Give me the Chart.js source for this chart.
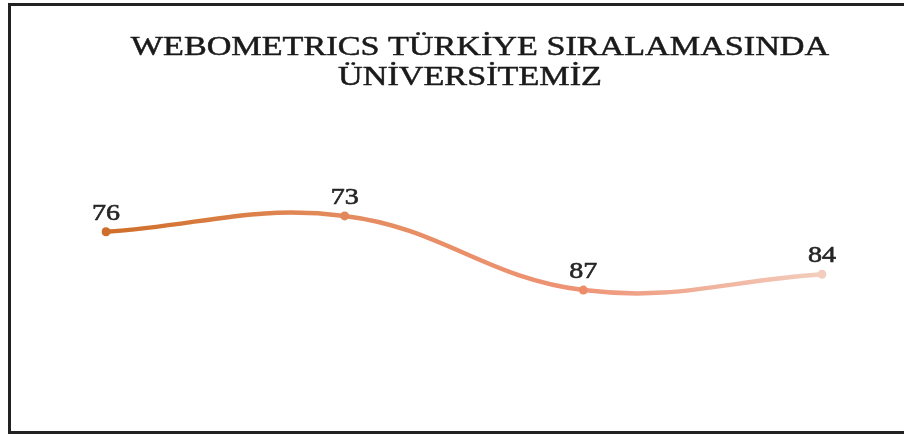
<!DOCTYPE html>
<html>
<head>
<meta charset="utf-8">
<script src="https://cdn.jsdelivr.net/npm/chart.js@4"></script>
<style>
  html, body { margin: 0; padding: 0; background: #fff; }
  #wrap { position: relative; width: 904px; height: 434px; overflow: hidden; }
  #frame { position: absolute; left: 8px; top: 3px; width: 900px; height: 425px;
           border-left: 3px solid #222; border-top: 3px solid #222; border-bottom: 3px solid #222; }
  canvas { position: absolute; left: 0; top: 0; }
</style>
</head>
<body>
<div id="wrap">
  <div id="frame"></div>
  <canvas id="c" width="904" height="434"></canvas>
</div>
<script>
const titleLines = ["WEBOMETRICS TÜRKİYE SIRALAMASINDA", "ÜNİVERSİTEMİZ"];
const categories = ["1", "2", "3", "4"];
const ranks = [76, 73, 87, 84];
const pointColors = ["#CF6E2A", "#E2875C", "#EE8C6A", "#F3CDBD"];

const textPlugin = {
  id: 'textPlugin',
  afterDraw(chart) {
    const ctx = chart.ctx;
    const sx = 1.22;
    ctx.save();
    ctx.fillStyle = '#1a1a1a';
    ctx.strokeStyle = '#1a1a1a';
    ctx.lineWidth = 0.5;
    ctx.textAlign = 'center';
    ctx.textBaseline = 'alphabetic';
    ctx.font = '28px "Liberation Serif", "Times New Roman", serif';
    const tl = [[480, 55], [470, 85]];
    titleLines.forEach((t, i) => {
      ctx.save();
      ctx.translate(tl[i][0], tl[i][1]);
      ctx.scale(sx, 1);
      ctx.fillText(t, 0, 0);
      ctx.strokeText(t, 0, 0);
      ctx.restore();
    });
    const meta = chart.getDatasetMeta(0);
    ctx.fillStyle = '#262626';
    ctx.strokeStyle = '#262626';
    ctx.lineWidth = 0.6;
    ctx.font = '23px "Liberation Serif", "Times New Roman", serif';
    meta.data.forEach((pt, i) => {
      ctx.save();
      ctx.translate(pt.x, pt.y - 12);
      ctx.scale(sx, 1);
      ctx.fillText(String(ranks[i]), 0, 0);
      ctx.strokeText(String(ranks[i]), 0, 0);
      ctx.restore();
    });
    ctx.restore();
  }
};

function lineGradient(context) {
  const chart = context.chart;
  const area = chart.chartArea;
  if (!area) return pointColors[0];
  const g = chart.ctx.createLinearGradient(area.left, 0, area.right, 0);
  g.addColorStop(0, "#CF6E2A");
  g.addColorStop(0.33, "#E48C5E");
  g.addColorStop(0.66, "#EE9476");
  g.addColorStop(1, "#F3CDBD");
  return g;
}

new Chart(document.getElementById('c'), {
  type: 'line',
  data: {
    labels: categories,
    datasets: [{
      data: ranks,
      borderColor: lineGradient,
      borderWidth: 4.5,
      tension: 0.4,
      pointRadius: 4.5,
      pointBackgroundColor: pointColors,
      pointBorderColor: pointColors,
      pointBorderWidth: 0,
      fill: false
    }]
  },
  options: {
    responsive: false,
    animation: false,
    layout: { padding: { left: 106, right: 82, top: 200, bottom: 75 } },
    plugins: { legend: { display: false }, title: { display: false }, tooltip: { enabled: false } },
    scales: {
      x: { display: false, offset: false },
      y: { display: false, reverse: true, min: 70, max: 100 }
    }
  },
  plugins: [textPlugin]
});
</script>
</body>
</html>
